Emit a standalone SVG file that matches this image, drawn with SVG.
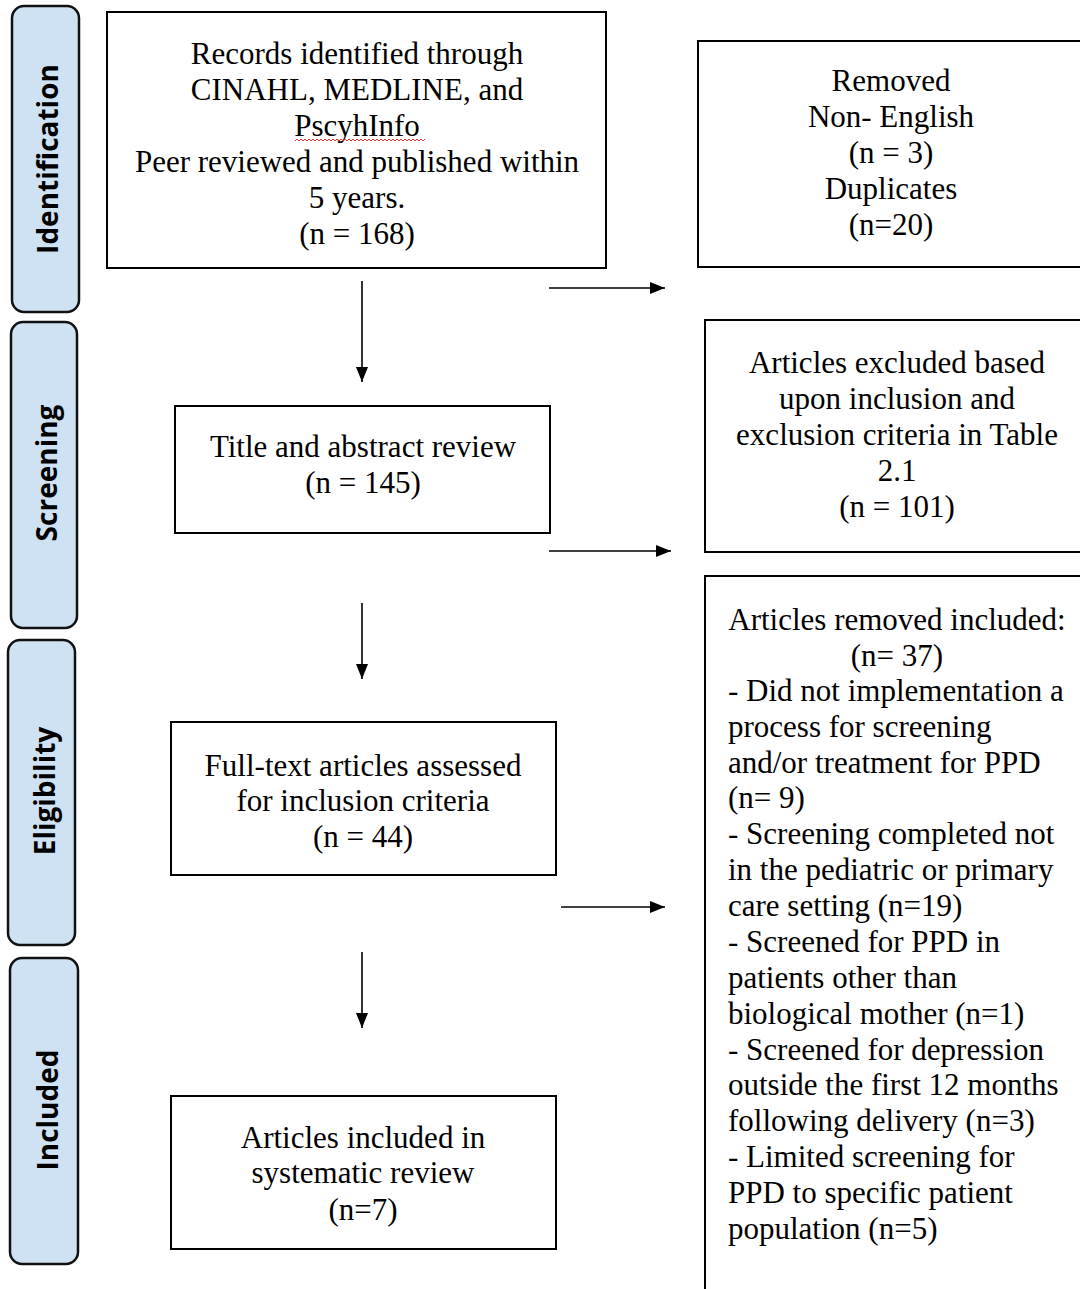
<svg xmlns="http://www.w3.org/2000/svg" width="1080" height="1289" viewBox="0 0 1080 1289">
<defs>
<marker id="arr" viewBox="0 0 15 12" refX="15" refY="6" markerWidth="15" markerHeight="12" markerUnits="userSpaceOnUse" orient="auto">
<path d="M0,0 L15,6 L0,12 z" fill="#000"/>
</marker>
<style>
.box{fill:#fff;stroke:#000;stroke-width:2}
.side{fill:#cfe2f3;stroke:#111;stroke-width:2.5}
.st{font-family:"Open Sans","DejaVu Sans",sans-serif;font-weight:bold;font-size:28px;fill:#000;text-anchor:middle}
.t{font-family:"Liberation Serif","Times New Roman",serif;font-size:31px;fill:#000;text-anchor:middle}
.tl{font-family:"Liberation Serif","Times New Roman",serif;font-size:31px;fill:#000}
.c{stroke:#000;stroke-width:1.6;fill:none}
</style>
</defs>
<rect width="1080" height="1289" fill="#fff"/>

<g id="stage-identification">
<rect class="side" x="12" y="6" width="67" height="306" rx="12"/>
<text class="st" transform="translate(58,159) rotate(-90)">Identification</text>
</g>
<g id="stage-screening">
<rect class="side" x="11" y="322" width="66" height="306" rx="12"/>
<text class="st" transform="translate(57,473) rotate(-90)">Screening</text>
</g>
<g id="stage-eligibility">
<rect class="side" x="8" y="640" width="67" height="305" rx="12"/>
<text class="st" transform="translate(55,791) rotate(-90)">Eligibility</text>
</g>
<g id="stage-included">
<rect class="side" x="10" y="958" width="68" height="306" rx="12"/>
<text class="st" transform="translate(58,1110) rotate(-90)">Included</text>
</g>

<g id="records">
<rect class="box" x="107" y="12" width="499" height="256"/>
<text class="t" x="357" y="64">Records identified through</text>
<text class="t" x="357" y="100">CINAHL, MEDLINE, and</text>
<text class="t" x="357" y="136">PscyhInfo</text>
<path d="M295,141 l2,-2 l2,2 l2,-2 l2,2 l2,-2 l2,2 l2,-2 l2,2 l2,-2 l2,2 l2,-2 l2,2 l2,-2 l2,2 l2,-2 l2,2 l2,-2 l2,2 l2,-2 l2,2 l2,-2 l2,2 l2,-2 l2,2 l2,-2 l2,2 l2,-2 l2,2 l2,-2 l2,2 l2,-2 l2,2 l2,-2 l2,2 l2,-2 l2,2 l2,-2 l2,2 l2,-2 l2,2 l2,-2 l2,2 l2,-2 l2,2 l2,-2 l2,2 l2,-2 l2,2 l2,-2 l2,2 l2,-2 l2,2 l2,-2 l2,2 l2,-2 l2,2 l2,-2 l2,2 l2,-2 l2,2 l2,-2 l2,2 l2,-2 l2,2 l2,-2" fill="none" stroke="#d33" stroke-width="1"/>
<text class="t" x="357" y="172">Peer reviewed and published within</text>
<text class="t" x="357" y="208">5 years.</text>
<text class="t" x="357" y="244">(n = 168)</text>
</g>

<g id="removed">
<rect class="box" x="698" y="41" width="390" height="226"/>
<text class="t" x="891" y="91">Removed</text>
<text class="t" x="891" y="127">Non- English</text>
<text class="t" x="891" y="163">(n = 3)</text>
<text class="t" x="891" y="199">Duplicates</text>
<text class="t" x="891" y="235">(n=20)</text>
</g>

<g id="title-abstract">
<rect class="box" x="175" y="406" width="375" height="127"/>
<text class="t" x="363" y="457">Title and abstract review</text>
<text class="t" x="363" y="493">(n = 145)</text>
</g>

<g id="excluded">
<rect class="box" x="705" y="320" width="385" height="232"/>
<text class="t" x="897" y="373">Articles excluded based</text>
<text class="t" x="897" y="409">upon inclusion and</text>
<text class="t" x="897" y="445">exclusion criteria in Table</text>
<text class="t" x="897" y="481">2.1</text>
<text class="t" x="897" y="517">(n = 101)</text>
</g>

<g id="full-text">
<rect class="box" x="171" y="722" width="385" height="153"/>
<text class="t" x="363" y="776">Full-text articles assessed</text>
<text class="t" x="363" y="811">for inclusion criteria</text>
<text class="t" x="363" y="847">(n = 44)</text>
</g>

<g id="removed-included">
<rect class="box" x="705" y="576" width="385" height="730"/>
<text class="t" x="897" y="630">Articles removed included:</text>
<text class="t" x="897" y="666">(n= 37)</text>
<text class="tl" x="728" y="701">- Did not implementation a</text>
<text class="tl" x="728" y="737">process for screening</text>
<text class="tl" x="728" y="773">and/or treatment for PPD</text>
<text class="tl" x="728" y="808">(n= 9)</text>
<text class="tl" x="728" y="844">- Screening completed not</text>
<text class="tl" x="728" y="880">in the pediatric or primary</text>
<text class="tl" x="728" y="916">care setting (n=19)</text>
<text class="tl" x="728" y="952">- Screened for PPD in</text>
<text class="tl" x="728" y="988">patients other than</text>
<text class="tl" x="728" y="1024">biological mother (n=1)</text>
<text class="tl" x="728" y="1060">- Screened for depression</text>
<text class="tl" x="728" y="1095">outside the first 12 months</text>
<text class="tl" x="728" y="1131">following delivery (n=3)</text>
<text class="tl" x="728" y="1167">- Limited screening for</text>
<text class="tl" x="728" y="1203">PPD to specific patient</text>
<text class="tl" x="728" y="1239">population (n=5)</text>
</g>

<g id="included">
<rect class="box" x="171" y="1096" width="385" height="153"/>
<text class="t" x="363" y="1148">Articles included in</text>
<text class="t" x="363" y="1183">systematic review</text>
<text class="t" x="363" y="1220">(n=7)</text>
</g>

<g id="connectors">
<line class="c" x1="362" y1="281" x2="362" y2="382" marker-end="url(#arr)"/>
<line class="c" x1="362" y1="603" x2="362" y2="679" marker-end="url(#arr)"/>
<line class="c" x1="362" y1="952" x2="362" y2="1028" marker-end="url(#arr)"/>
<line class="c" x1="549" y1="288" x2="665" y2="288" marker-end="url(#arr)"/>
<line class="c" x1="549" y1="551" x2="671" y2="551" marker-end="url(#arr)"/>
<line class="c" x1="561" y1="907" x2="665" y2="907" marker-end="url(#arr)"/>
</g>
</svg>
